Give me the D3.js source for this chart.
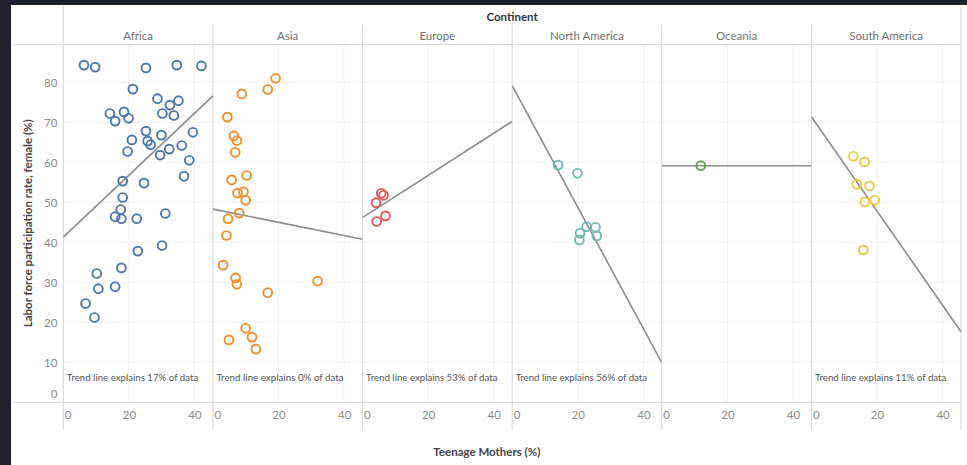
<!DOCTYPE html>
<html><head><meta charset="utf-8">
<script src="https://cdn.jsdelivr.net/npm/d3@7/dist/d3.min.js"></script>
<style>
html,body{margin:0;padding:0;background:#1b202b;}
svg{display:block;}
text{font-family:Lato,"Noto Sans",sans-serif;}
</style></head>
<body><svg id="chart" width="967" height="465"></svg>
<script>
const continents = ["Africa","Asia","Europe","North America","Oceania","South America"];
const colors = ["#4e79a7","#f28e2b","#e15759","#76b7b2","#59a14f","#edc948"];
const africa = [[6.3,84.3],[9.7,83.8],[25.2,83.6],[34.6,84.3],[42.1,84.1],[21.2,78.3],[14.2,72.2],[15.8,70.3],[18.5,72.6],[19.9,71.0],[28.7,75.9],[35.1,75.4],[32.5,74.3],[30.2,72.2],[33.7,71.7],[25.2,67.8],[20.9,65.6],[29.9,66.8],[25.7,65.3],[26.6,64.4],[39.5,67.5],[19.6,62.7],[36.1,64.2],[32.3,63.3],[29.5,61.8],[38.4,60.5],[36.8,56.5],[18.1,55.3],[24.6,54.8],[18.1,51.2],[17.5,48.2],[15.8,46.4],[17.7,45.9],[22.4,45.9],[31.1,47.2],[30.1,39.2],[22.7,37.8],[17.7,33.6],[10.2,32.2],[10.7,28.4],[15.8,28.9],[6.8,24.7],[9.5,21.2]];
const asia = [[19.1,81.0],[16.7,78.2],[8.8,77.1],[4.4,71.3],[6.4,66.6],[7.3,65.4],[6.8,62.5],[10.3,56.7],[5.7,55.6],[7.5,52.3],[9.3,52.6],[10.0,50.5],[8.0,47.3],[4.6,45.9],[4.1,41.7],[3.1,34.3],[6.9,31.1],[7.3,29.5],[16.7,27.4],[31.9,30.3],[10.0,18.5],[11.9,16.3],[4.9,15.6],[13.1,13.3]];
const europe = [[5.7,52.25],[6.4,51.75],[4.1,49.9],[7.0,46.6],[4.3,45.2]];
const northAmerica = [[14.0,59.3],[19.9,57.25],[22.7,43.9],[25.4,43.75],[20.7,42.25],[25.8,41.6],[20.5,40.6]];
const oceania = [[11.9,59.15]];
const southAmerica = [[12.8,61.5],[16.2,60.1],[13.9,54.5],[17.7,54.1],[16.3,50.1],[19.3,50.5],[15.8,38.1]];
const seriesData = [africa, asia, europe, northAmerica, oceania, southAmerica];
// trend line value at the left edge and right edge of each pane
const trendLeft  = [41.3, 48.3, 46.15, 79.15, 59.15, 71.4];
const trendRight = [76.6, 40.75, 70.25, 9.9, 59.15, 17.65];
const trendText = ["Trend line explains 17% of data","Trend line explains 0% of data","Trend line explains 53% of data","Trend line explains 56% of data","","Trend line explains 11% of data"];
const yTicks = [0,10,20,30,40,50,60,70,80];
const xTicks = [0,20,40];

const svg = d3.select("#chart");
const W = 967, H = 465;
const frameL = 11, frameT = 5;
const outerL = 12.7, paneL = 63.3, paneR = 961, paneT = 44.3, paneB = 402.3;
const pw = (paneR - paneL) / continents.length;
const xMax = 45.6, yMax = 89.5;

svg.append("rect").attr("x",frameL).attr("y",frameT).attr("width",W-frameL).attr("height",H-frameT).attr("fill","#ffffff");

const y = d3.scaleLinear().domain([0,yMax]).range([paneB,paneT]);
const xs = continents.map((c,i)=>d3.scaleLinear().domain([0,xMax]).range([paneL+i*pw, paneL+(i+1)*pw]));

const grid = svg.append("g");
grid.selectAll("line.h").data(yTicks.filter(t=>t>0)).join("line")
  .attr("x1",paneL).attr("x2",paneR).attr("y1",d=>y(d)).attr("y2",d=>y(d))
  .attr("stroke","#f0f0f0").attr("stroke-width",1);
continents.forEach((c,i)=>{
  grid.selectAll(null).data(xTicks.filter(t=>t>0)).join("line")
    .attr("x1",d=>xs[i](d)).attr("x2",d=>xs[i](d)).attr("y1",paneT).attr("y2",paneB)
    .attr("stroke","#f0f0f0").attr("stroke-width",1);
});

const lc = "#d4d4d4";
svg.append("line").attr("x1",outerL).attr("x2",paneR).attr("y1",paneT).attr("y2",paneT).attr("stroke",lc);
svg.append("line").attr("x1",outerL).attr("x2",paneR).attr("y1",paneB).attr("y2",paneB).attr("stroke",lc);
svg.append("line").attr("x1",paneL).attr("x2",paneL).attr("y1",6).attr("y2",430).attr("stroke",lc);
svg.append("line").attr("x1",paneR).attr("x2",paneR).attr("y1",6).attr("y2",430).attr("stroke",lc);
for(let i=1;i<continents.length;i++){
  const xx = paneL+i*pw;
  svg.append("line").attr("x1",xx).attr("x2",xx).attr("y1",25).attr("y2",430).attr("stroke",lc);
}

svg.append("text").attr("x",(paneL+paneR)/2).attr("y",16).attr("text-anchor","middle").attr("dominant-baseline","central")
  .attr("font-size",11.5).attr("font-weight",700).attr("fill","#333").text("Continent");
svg.selectAll("text.hdr").data(continents).join("text")
  .attr("x",(d,i)=>paneL+(i+0.5)*pw).attr("y",35).attr("text-anchor","middle").attr("dominant-baseline","central")
  .attr("font-size",11.5).attr("fill","#707070").text(d=>d);

const yAxis = svg.append("g").attr("transform",`translate(${paneL-4},0)`)
  .call(d3.axisLeft(y).tickValues(yTicks).tickSize(0).tickPadding(2));
yAxis.select(".domain").remove();
yAxis.selectAll("text").attr("font-size",11.5).attr("fill","#8a8a8a").attr("font-family","Lato,sans-serif")
  .attr("dy",d=>d===0?"-0.45em":"0.35em");

continents.forEach((c,i)=>{
  const g = svg.append("g").attr("transform",`translate(0,${paneB})`)
    .call(d3.axisBottom(xs[i]).tickValues(xTicks).tickSize(0).tickPadding(9).tickFormat(d3.format("d")));
  g.select(".domain").remove();
  g.selectAll("text").attr("font-size",11.5).attr("fill","#8a8a8a").attr("font-family","Lato,sans-serif")
    .attr("text-anchor",d=>d===0?"start":"middle").attr("dx",d=>d===0?"1":"0");
});

continents.forEach((c,i)=>{
  const x = xs[i];
  const clipId = "clip"+i;
  svg.append("clipPath").attr("id",clipId).append("rect")
    .attr("x",x(0)).attr("y",paneT).attr("width",pw).attr("height",paneB-paneT);
  const g = svg.append("g").attr("clip-path",`url(#${clipId})`);
  g.append("line").attr("x1",x(0)).attr("x2",x(xMax)).attr("y1",y(trendLeft[i])).attr("y2",y(trendRight[i]))
    .attr("stroke","#8c8c8c").attr("stroke-width",1.6);
  g.selectAll("circle").data(seriesData[i]).join("circle")
    .attr("cx",d=>x(d[0])).attr("cy",d=>y(d[1])).attr("r",4.4)
    .attr("fill","none").attr("stroke",colors[i]).attr("stroke-width",1.9);
  if(trendText[i]){
    const t = svg.append("text").attr("x",x(0)+3.5).attr("y",376.7).attr("dominant-baseline","central")
      .attr("font-size",11).attr("fill","#555").text(trendText[i]);
    const len = t.node().getComputedTextLength();
    const target = trendText[i].length * 4.25;
    if (len > target) t.attr("font-size", 11 * target / len);
  }
});

svg.append("text").attr("x",(outerL+paneR)/2).attr("y",451.7).attr("text-anchor","middle").attr("dominant-baseline","central")
  .attr("font-size",11.5).attr("font-weight",700).attr("fill","#444").text("Teenage Mothers (%)");
svg.append("text").attr("transform",`translate(27,${(paneT+paneB)/2}) rotate(-90)`).attr("text-anchor","middle").attr("dominant-baseline","central")
  .attr("font-size",11.5).attr("font-weight",700).attr("fill","#444").text("Labor force participation rate, female (%)");
</script></body></html>
